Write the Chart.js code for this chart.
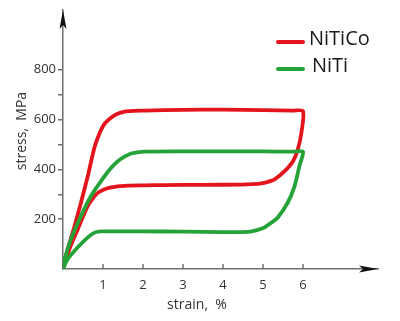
<!DOCTYPE html>
<html lang="en">
<head>
<meta charset="UTF-8" />
<title>stress-strain NiTiCo / NiTi</title>
<script src="https://cdn.jsdelivr.net/npm/chart.js"></script>
<style>
  html, body { margin: 0; padding: 0; background: #fff; }
</style>
</head>
<body>
<canvas id="chart" width="400" height="321"></canvas>
<script>
// NiTiCo loop: loading, then unloading back to origin
const strainNiTiCo = [0, 0.12, 0.29, 0.45, 0.62, 0.79, 0.95, 1.05, 1.2, 1.35, 1.54, 1.75, 2.04, 3, 4, 5, 5.75, 6,
                      5.96, 5.87, 5.75, 5.54, 5.29, 5.1, 4.96, 4.75, 4.46, 3.5, 2.5, 2.04, 1.62, 1.45, 1.29, 1.15, 1.04, 0.9, 0.79, 0.62, 0.37, 0.16, 0];
const stressNiTiCo = [0, 80, 173, 267, 373, 490, 558, 585, 607, 622, 632, 635, 636, 639, 640, 638, 636, 634,
                      547, 480, 433, 393, 360, 349, 344, 341, 339, 338, 337, 336, 335, 333, 330, 326, 320, 309, 293, 253, 160, 80, 0];
// NiTi loop
const strainNiTi = [0, 0.04, 0.2, 0.45, 0.7, 1.04, 1.2, 1.37, 1.55, 1.7, 1.85, 2.04, 3, 4, 5, 5.75, 6,
                    5.91, 5.79, 5.62, 5.37, 5.2, 5.04, 4.85, 4.62, 4, 3, 2, 0.95, 0.79, 0.62, 0.37, 0.12, 0];
const stressNiTi = [0, 40, 120, 213, 293, 373, 406, 433, 452, 464, 468, 471, 472, 472, 472, 471, 471,
                    413, 333, 267, 207, 185, 167, 156, 149, 148, 150, 151, 151, 146, 127, 87, 40, 0];

const xTicks = [1, 2, 3, 4, 5, 6];
const yTicks = [200, 300, 400, 500, 600, 700, 800];
const yLabeled = [200, 400, 600, 800];
const seriesNames = ['NiTiCo', 'NiTi'];
const seriesColors = ['#e3141c', '#25a338'];

const toPoints = (xs, ys) => xs.map((x, i) => ({ x: x, y: ys[i] }));

const axisColor = '#6f6f6f';
const textColor = '#333';
const font = '"Open Sans", sans-serif';

const extras = {
  id: 'extras',
  afterDraw(chart) {
    const c = chart.ctx;
    const a = chart.chartArea;
    const xs = chart.scales.x;
    c.save();
    // x tick marks pointing up into the plot
    c.strokeStyle = axisColor;
    c.lineWidth = 1.5;
    xTicks.forEach(v => {
      const px = xs.getPixelForValue(v);
      c.beginPath();
      c.moveTo(px, a.bottom);
      c.lineTo(px, a.bottom - 5);
      c.stroke();
    });
    // arrow heads
    c.fillStyle = '#111';
    c.beginPath();
    c.moveTo(a.left, a.top);
    c.lineTo(a.left - 3.5, a.top + 19);
    c.lineTo(a.left, a.top + 15);
    c.lineTo(a.left + 3.5, a.top + 19);
    c.closePath();
    c.fill();
    c.beginPath();
    c.moveTo(a.right, a.bottom);
    c.lineTo(a.right - 19, a.bottom - 3.5);
    c.lineTo(a.right - 15, a.bottom);
    c.lineTo(a.right - 19, a.bottom + 3.5);
    c.closePath();
    c.fill();
    // axis titles
    c.fillStyle = textColor;
    c.font = '14px ' + font;
    c.textAlign = 'center';
    c.textBaseline = 'middle';
    c.fillText('strain,  %', 197, 305);
    c.translate(22, 131);
    c.rotate(-Math.PI / 2);
    c.fillText('stress,  MPa', 0, 0);
    c.restore();
    // legend
    c.save();
    c.lineWidth = 4;
    c.lineCap = 'round';
    c.font = '20px ' + font;
    c.textBaseline = 'middle';
    c.fillStyle = '#1a1a1a';
    const rows = [[42, 309], [69, 312]];
    seriesNames.forEach((name, i) => {
      c.strokeStyle = seriesColors[i];
      c.beginPath();
      c.moveTo(278, rows[i][0]);
      c.lineTo(303, rows[i][0]);
      c.stroke();
      c.fillText(name, rows[i][1], rows[i][0] - 3);
    });
    c.restore();
  }
};

const ctx = document.getElementById('chart').getContext('2d');
new Chart(ctx, {
  type: 'scatter',
  data: {
    datasets: [
      {
        label: seriesNames[0],
        data: toPoints(strainNiTiCo, stressNiTiCo),
        borderColor: seriesColors[0],
        order: 1
      },
      {
        label: seriesNames[1],
        data: toPoints(strainNiTi, stressNiTi),
        borderColor: seriesColors[1],
        order: 0
      }
    ]
  },
  options: {
    responsive: false,
    animation: false,
    devicePixelRatio: 1,
    showLine: true,
    elements: {
      point: { radius: 0 },
      line: { borderWidth: 3.8, tension: 0.25, borderCapStyle: 'round', borderJoinStyle: 'round', fill: false }
    },
    layout: { padding: { top: 10, right: 22, left: 0, bottom: 0 } },
    plugins: { legend: { display: false }, tooltip: { enabled: false } },
    scales: {
      x: {
        type: 'linear',
        min: 0,
        max: 7.875,
        afterFit: s => { s.height = 52; },
        afterBuildTicks: s => { s.ticks = xTicks.map(v => ({ value: v })); },
        grid: { display: false },
        border: { color: axisColor, width: 1.5 },
        ticks: { color: textColor, font: { family: font, size: 13 }, padding: 0, maxRotation: 0 }
      },
      y: {
        type: 'linear',
        min: 0,
        max: 1040,
        afterFit: s => { s.width = 63; },
        afterBuildTicks: s => { s.ticks = yTicks.map(v => ({ value: v })); },
        grid: { drawOnChartArea: false, drawTicks: true, tickLength: 5, color: axisColor, lineWidth: 1.5 },
        border: { color: axisColor, width: 1.5 },
        ticks: {
          color: textColor,
          font: { family: font, size: 13 },
          padding: 2,
          callback: v => yLabeled.includes(v) ? String(v) : ''
        }
      }
    }
  },
  plugins: [extras]
});
</script>
</body>
</html>
